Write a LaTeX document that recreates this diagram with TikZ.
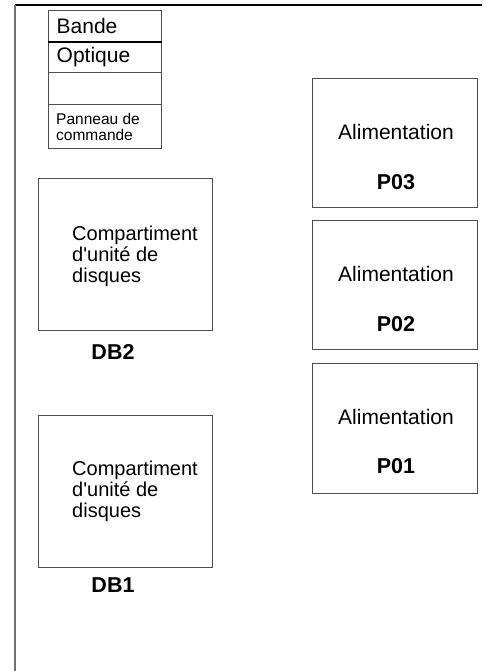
\documentclass[tikz,border=0pt]{standalone}
\usepackage{fontspec}
\setmainfont{Liberation Sans}
\begin{document}
\begin{tikzpicture}[x=1pt,y=-1pt,
  box/.style={draw=black!70, line width=1.1pt, rectangle, inner sep=0pt, anchor=north west},
  big/.style={font=\fontsize{20}{21}\selectfont, inner sep=0pt},
  head/.style={font=\fontsize{21}{22}\selectfont, inner sep=0pt, anchor=west},
  alim/.style={font=\fontsize{21}{22}\selectfont, inner sep=0pt},
  lbl/.style={font=\fontsize{21.5}{22}\selectfont\bfseries, inner sep=0pt},
  small/.style={font=\fontsize{15.5}{16.5}\selectfont, inner sep=0pt, align=left, anchor=west}
]
\useasboundingbox (0,0) rectangle (482,671);
% frame
\coordinate (ftl) at (15,5);
\coordinate (ftr) at (482,5);
\coordinate (fbl) at (15,671);
\draw[black, line width=2pt] (ftl) -- (ftr);
\draw[black!55, line width=2pt] (ftl) -- (fbl);
% stack
\node[box, minimum width=113pt, minimum height=31pt] (r1) at (48,10) {};
\node[box, minimum width=113pt, minimum height=31pt] (r2) at (48,41) {};
\node[box, minimum width=113pt, minimum height=32pt] (r3) at (48,72) {};
\node[box, minimum width=113pt, minimum height=44pt] (r4) at (48,104) {};
\draw[black, line width=2pt] (r1.south west) -- (r1.south east);
\node[head] (t1) at (56.5,25.5) {Bande};
\node[head] (t2) at (56.5,57) {Optique};
\node[small] (t4) at (56,127) {Panneau de\\commande};
% disk bays
\node[box, minimum width=174pt, minimum height=152pt] (db2) at (38,178) {};
\node[big, anchor=west, align=left] (db2t) at (72,256) {Compartiment\\d\textquotesingle unité de\\disques};
\node[lbl] (db2l) at (113,352) {DB2};
\node[box, minimum width=174pt, minimum height=152pt] (db1) at (38,415) {};
\node[big, anchor=west, align=left] (db1t) at (72,491) {Compartiment\\d\textquotesingle unité de\\disques};
\node[lbl] (db1l) at (113,585) {DB1};
% power supplies
\node[box, minimum width=165pt, minimum height=129pt] (p3) at (312,78) {};
\node[alim] (p3a) at (396,132) {Alimentation};
\node[lbl] (p3l) at (396,182) {P03};
\node[box, minimum width=165pt, minimum height=129pt] (p2) at (312,220) {};
\node[alim] (p2a) at (396,274) {Alimentation};
\node[lbl] (p2l) at (396,324) {P02};
\node[box, minimum width=165pt, minimum height=130pt] (p1) at (312,363) {};
\node[alim] (p1a) at (396,417) {Alimentation};
\node[lbl] (p1l) at (396,466) {P01};
\end{tikzpicture}
\end{document}
